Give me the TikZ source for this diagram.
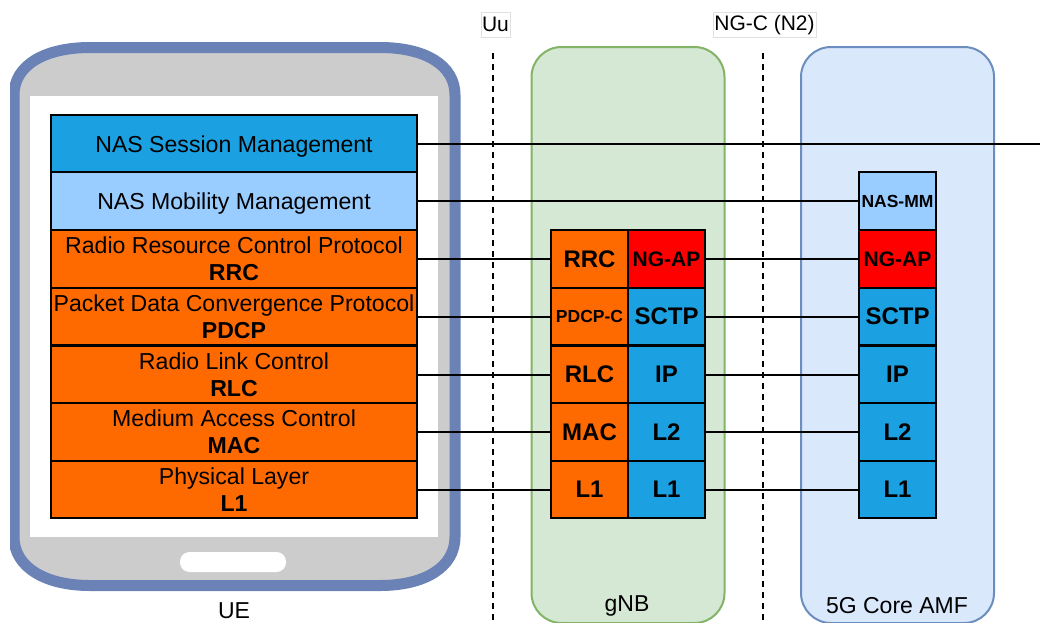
\documentclass[tikz,border=0pt]{standalone}
\usepackage{fontspec}
\setmainfont{Liberation Sans}
\definecolor{nasblue}{HTML}{1BA1E2}
\definecolor{mmblue}{HTML}{99CCFF}
\definecolor{ranorange}{HTML}{FF6A00}
\definecolor{phoneedge}{HTML}{6A82B5}
\definecolor{phonebody}{HTML}{CCCCCC}
\definecolor{gnbfill}{HTML}{D5E8D4}
\definecolor{gnbedge}{HTML}{82B366}
\definecolor{amffill}{HTML}{DAE8FC}
\definecolor{amfedge}{HTML}{6C8EBF}
\tikzset{
  layer/.style={draw=black,line width=2pt,inner sep=0pt,outer sep=0pt,align=center,
    minimum height=57.6pt,text=black},
  uelayer/.style={layer,minimum width=366pt,font=\fontsize{23.1}{27}\selectfont},
  nastext/.style={text height=21pt},
  cell/.style={layer,minimum width=77pt,font=\fontsize{24}{27}\selectfont\bfseries},
  smallcell/.style={font=\fontsize{17.5}{20}\selectfont\bfseries},
  midcell/.style={font=\fontsize{21}{24}\selectfont\bfseries},
  node box/.style={rounded corners=30pt,line width=2pt,minimum width=193pt,minimum height=576pt,outer sep=0pt},
  iface/.style={draw=black!12,fill=white,line width=1pt,inner sep=0pt,minimum height=25pt,font=\fontsize{21}{25}\selectfont},
  caption/.style={inner sep=0pt,font=\fontsize{23}{27}\selectfont},
  link/.style={draw=black,line width=2pt},
  border/.style={draw=black,line width=2pt,dash pattern=on 6pt off 5pt}
}
\begin{document}
\begin{tikzpicture}[x=1pt,y=-1pt]
  \clip (0,0) rectangle (1040,622);
  % UE handset
  \begin{scope}
    \clip (10,0) rectangle (470,622);
    \draw[draw=phoneedge,fill=phonebody,line width=11pt]
      (90,47.5) -- (380,47.5) .. controls (425,47.5) and (455,65) .. (455,95)
      -- (455,537) .. controls (455,567) and (425,585.5) .. (380,585.5)
      -- (90,585.5) .. controls (45,585.5) and (14,567) .. (14,537)
      -- (14,95) .. controls (14,65) and (45,47.5) .. (90,47.5) -- cycle;
  \end{scope}
  \fill[white] (30,96) rectangle (438,537);
  \fill[white,rounded corners=9.5pt] (180,552) rectangle (286,572);
  % network functions
  \node[node box,draw=gnbedge,fill=gnbfill] (gnb) at (628,335) {};
  \node[node box,draw=amfedge,fill=amffill] (amf) at (897.5,335) {};
  % UE stack
  \node[uelayer,nastext,fill=nasblue] (uesm) at (234,144) {NAS Session Management};
  \node[uelayer,nastext,fill=mmblue] (uemm) at (234,201.2) {NAS Mobility Management};
  \node[uelayer,fill=ranorange] (uerrc) at (234,259) {Radio Resource Control Protocol\\\textbf{RRC}};
  \node[uelayer,fill=ranorange] (uepdcp) at (234,316.5) {Packet Data Convergence Protocol\\\textbf{PDCP}};
  \node[uelayer,fill=ranorange] (uerlc) at (234,374.5) {Radio Link Control\\\textbf{RLC}};
  \node[uelayer,fill=ranorange] (uemac) at (234,432) {Medium Access Control\\\textbf{MAC}};
  \node[uelayer,fill=ranorange] (uephy) at (234,489.5) {Physical Layer\\\textbf{L1}};
  % gNB stack
  \node[cell,fill=ranorange] (grrc) at (589.5,259) {RRC};
  \node[cell,smallcell,fill=ranorange] (gpdcp) at (589.5,316.5) {PDCP-C};
  \node[cell,fill=ranorange] (grlc) at (589.5,374.5) {RLC};
  \node[cell,fill=ranorange] (gmac) at (589.5,432) {MAC};
  \node[cell,fill=ranorange] (gphy) at (589.5,489.5) {L1};
  \node[cell,midcell,fill=red] (gngap) at (666.5,259) {NG-AP};
  \node[cell,fill=nasblue] (gsctp) at (666.5,316.5) {SCTP};
  \node[cell,fill=nasblue] (gip) at (666.5,374.5) {IP};
  \node[cell,fill=nasblue] (gl2) at (666.5,432) {L2};
  \node[cell,fill=nasblue] (gl1) at (666.5,489.5) {L1};
  % AMF stack
  \node[cell,smallcell,fill=mmblue] (amm) at (897.5,201.2) {NAS-MM};
  \node[cell,midcell,fill=red] (angap) at (897.5,259) {NG-AP};
  \node[cell,fill=nasblue] (asctp) at (897.5,316.5) {SCTP};
  \node[cell,fill=nasblue] (aip) at (897.5,374.5) {IP};
  \node[cell,fill=nasblue] (al2) at (897.5,432) {L2};
  \node[cell,fill=nasblue] (al1) at (897.5,489.5) {L1};
  % interfaces
  \coordinate (uutop) at (493,53);
  \coordinate (uubot) at (493,622);
  \coordinate (ngtop) at (762.5,53);
  \coordinate (ngbot) at (762.5,622);
  \coordinate (smend) at (1040,144);
  \draw[border] (uutop) -- (uubot);
  \draw[border] (ngtop) -- (ngbot);
  \node[iface,minimum width=29pt] (uu) at (495.5,24.5) {Uu};
  \node[iface,minimum width=103pt,text height=16pt] (ngc) at (764.5,24.5) {NG-C (N2)};
  % peer links
  \draw[link] (uesm) -- (smend);
  \draw[link] (uemm) -- (amm);
  \draw[link] (uerrc) -- (grrc);
  \draw[link] (uepdcp) -- (gpdcp);
  \draw[link] (uerlc) -- (grlc);
  \draw[link] (uemac) -- (gmac);
  \draw[link] (uephy) -- (gphy);
  \draw[link] (gngap) -- (angap);
  \draw[link] (gsctp) -- (asctp);
  \draw[link] (gip) -- (aip);
  \draw[link] (gl2) -- (al2);
  \draw[link] (gl1) -- (al1);
  % captions
  \node[caption] (uelabel) at (234,611) {UE};
  \node[caption] (gnblabel) at (627,606) {gNB};
  \node[caption] (amflabel) at (897,606) {5G Core AMF};
\end{tikzpicture}
\end{document}
